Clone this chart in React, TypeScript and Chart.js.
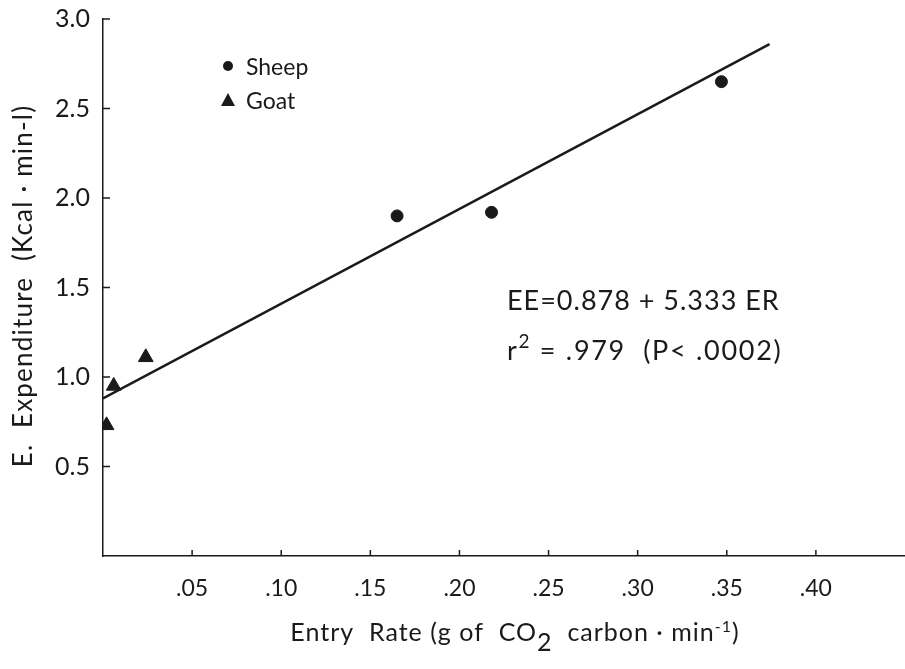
import React, { useEffect, useRef } from "react";
import { Chart, registerables } from "chart.js";

Chart.register(...registerables);

const sheepX = [0.165, 0.218, 0.347];
const sheepY = [1.9, 1.92, 2.65];
const goatX = [0.002, 0.006, 0.024];
const goatY = [0.73, 0.95, 1.11];
const fitX = [0.0, 0.374];
const fitY = [0.88, 2.86];
const yTickValues = [0.5, 1.0, 1.5, 2.0, 2.5, 3.0];
const xTickValues = [0.05, 0.1, 0.15, 0.2, 0.25, 0.3, 0.35, 0.4];
const legendLabels = ["Sheep", "Goat"];
const equationLine = "EE=0.878 + 5.333 ER";
const rSquaredLine = ["r", "2", "= .979  (P< .0002)"];
const yTitle = "E.  Expenditure  (Kcal · min-l)";
const xTitleParts = ["Entry  Rate (g of  CO", "2", "  carbon · min", "-1", ")"];

const FONT = "Lato, 'DejaVu Sans', sans-serif";
const INK = "#1a1a1a";

const drawRich = (
  ctx: CanvasRenderingContext2D,
  parts: { t: string; size: number; dy: number }[],
  x: number,
  y: number,
  align: "left" | "center",
  spacing: number
) => {
  ctx.textAlign = "left";
  (ctx as any).letterSpacing = `${spacing}px`;
  let total = 0;
  const widths = parts.map((p) => {
    ctx.font = `${p.size}px ${FONT}`;
    const w = ctx.measureText(p.t).width;
    total += w;
    return w;
  });
  let cx = align === "center" ? x - total / 2 : x;
  parts.forEach((p, i) => {
    ctx.font = `${p.size}px ${FONT}`;
    ctx.fillText(p.t, cx, y + p.dy);
    cx += widths[i];
  });
  (ctx as any).letterSpacing = "0px";
};

const overlayPlugin = {
  id: "overlay",
  afterDraw(chart: any) {
    const ctx: CanvasRenderingContext2D = chart.ctx;
    const xs = chart.scales.x;
    const ys = chart.scales.y;
    const left = chart.chartArea.left;
    const bottom = chart.chartArea.bottom;
    ctx.save();
    ctx.strokeStyle = INK;
    ctx.lineWidth = 1.5;
    // inward ticks
    yTickValues.forEach((v) => {
      const py = ys.getPixelForValue(v);
      ctx.beginPath();
      ctx.moveTo(left, py);
      ctx.lineTo(left + 7, py);
      ctx.stroke();
    });
    xTickValues.forEach((v) => {
      const px = xs.getPixelForValue(v);
      ctx.beginPath();
      ctx.moveTo(px, bottom);
      ctx.lineTo(px, bottom - 6);
      ctx.stroke();
    });

    ctx.fillStyle = INK;
    ctx.textBaseline = "alphabetic";
    ctx.textAlign = "left";

    // legend
    ctx.beginPath();
    ctx.arc(228, 66, 5, 0, Math.PI * 2);
    ctx.fill();
    ctx.beginPath();
    ctx.moveTo(228, 93);
    ctx.lineTo(235, 106);
    ctx.lineTo(221, 106);
    ctx.closePath();
    ctx.fill();
    ctx.font = `23px ${FONT}`;
    ctx.fillText(legendLabels[0], 246, 75);
    ctx.fillText(legendLabels[1], 246, 109);

    // annotations
    drawRich(ctx, [{ t: equationLine, size: 27, dy: 0 }], 507, 310, "left", 1);
    drawRich(
      ctx,
      [
        { t: rSquaredLine[0], size: 27, dy: 0 },
        { t: rSquaredLine[1], size: 19, dy: -12 },
        { t: " " + rSquaredLine[2], size: 27, dy: 0 },
      ],
      507,
      360,
      "left",
      1.7
    );

    // x title
    drawRich(
      ctx,
      [
        { t: xTitleParts[0], size: 25, dy: 0 },
        { t: xTitleParts[1], size: 25, dy: 10 },
        { t: xTitleParts[2], size: 25, dy: 0 },
        { t: xTitleParts[3], size: 16, dy: -9 },
        { t: xTitleParts[4], size: 25, dy: 0 },
      ],
      515,
      641,
      "center",
      1
    );

    // y title
    ctx.save();
    ctx.translate(32, 286);
    ctx.rotate(-Math.PI / 2);
    drawRich(ctx, [{ t: yTitle, size: 26, dy: 0 }], 0, 0, "center", 1.2);
    ctx.restore();

    ctx.restore();
  },
};

export default function App() {
  const ref = useRef<HTMLCanvasElement | null>(null);
  useEffect(() => {
    if (!ref.current) return;
    const chart = new Chart(ref.current, {
      type: "scatter",
      data: {
        datasets: [
          {
            type: "line",
            label: "fit",
            data: fitX.map((x, i) => ({ x, y: fitY[i] })),
            borderColor: INK,
            borderWidth: 2.5,
            pointRadius: 0,
            fill: false,
          } as any,
          {
            label: legendLabels[0],
            data: sheepX.map((x, i) => ({ x, y: sheepY[i] })),
            pointStyle: "circle",
            pointRadius: 6,
            backgroundColor: INK,
            borderColor: INK,
          },
          {
            label: legendLabels[1],
            data: goatX.map((x, i) => ({ x, y: goatY[i] })),
            pointStyle: "triangle",
            pointRadius: 8.5,
            backgroundColor: INK,
            borderColor: INK,
          },
        ],
      },
      options: {
        animation: false,
        responsive: false,
        layout: { autoPadding: false, padding: { top: 19, right: 0, left: 0, bottom: 0 } },
        plugins: { legend: { display: false }, tooltip: { enabled: false } },
        scales: {
          x: {
            type: "linear",
            min: 0,
            max: 0.45,
            grid: { display: false, drawTicks: false },
            border: { display: true, color: INK, width: 1.5 },
            afterFit: (s: any) => {
              s.height = 113;
              s.paddingLeft = 0;
              s.paddingRight = 0;
            },
            ticks: {
              stepSize: 0.05,
              padding: 19,
              color: INK,
              font: { family: FONT, size: 23 },
              callback: (v: any) => {
                const n = Number(v);
                if (n < 0.01 || n > 0.42) return "";
                return n.toFixed(2).replace(/^0/, "");
              },
            },
          },
          y: {
            type: "linear",
            min: 0,
            max: 3.0,
            grid: { display: false, drawTicks: false },
            border: { display: true, color: INK, width: 1.5 },
            afterFit: (s: any) => {
              s.width = 103;
              s.paddingTop = 0;
              s.paddingBottom = 0;
            },
            ticks: {
              stepSize: 0.5,
              padding: 13,
              color: INK,
              font: { family: FONT, size: 25 },
              callback: (v: any) => {
                const n = Number(v);
                if (n < 0.1) return "";
                return n.toFixed(1);
              },
            },
          },
        },
      },
      plugins: [overlayPlugin],
    });
    return () => chart.destroy();
  }, []);
  return (
    <div style={{ position: "fixed", left: 0, top: 0, width: 905, height: 669, background: "#fff" }}>
      <canvas ref={ref} width={905} height={669} style={{ width: 905, height: 669 }} />
    </div>
  );
}
